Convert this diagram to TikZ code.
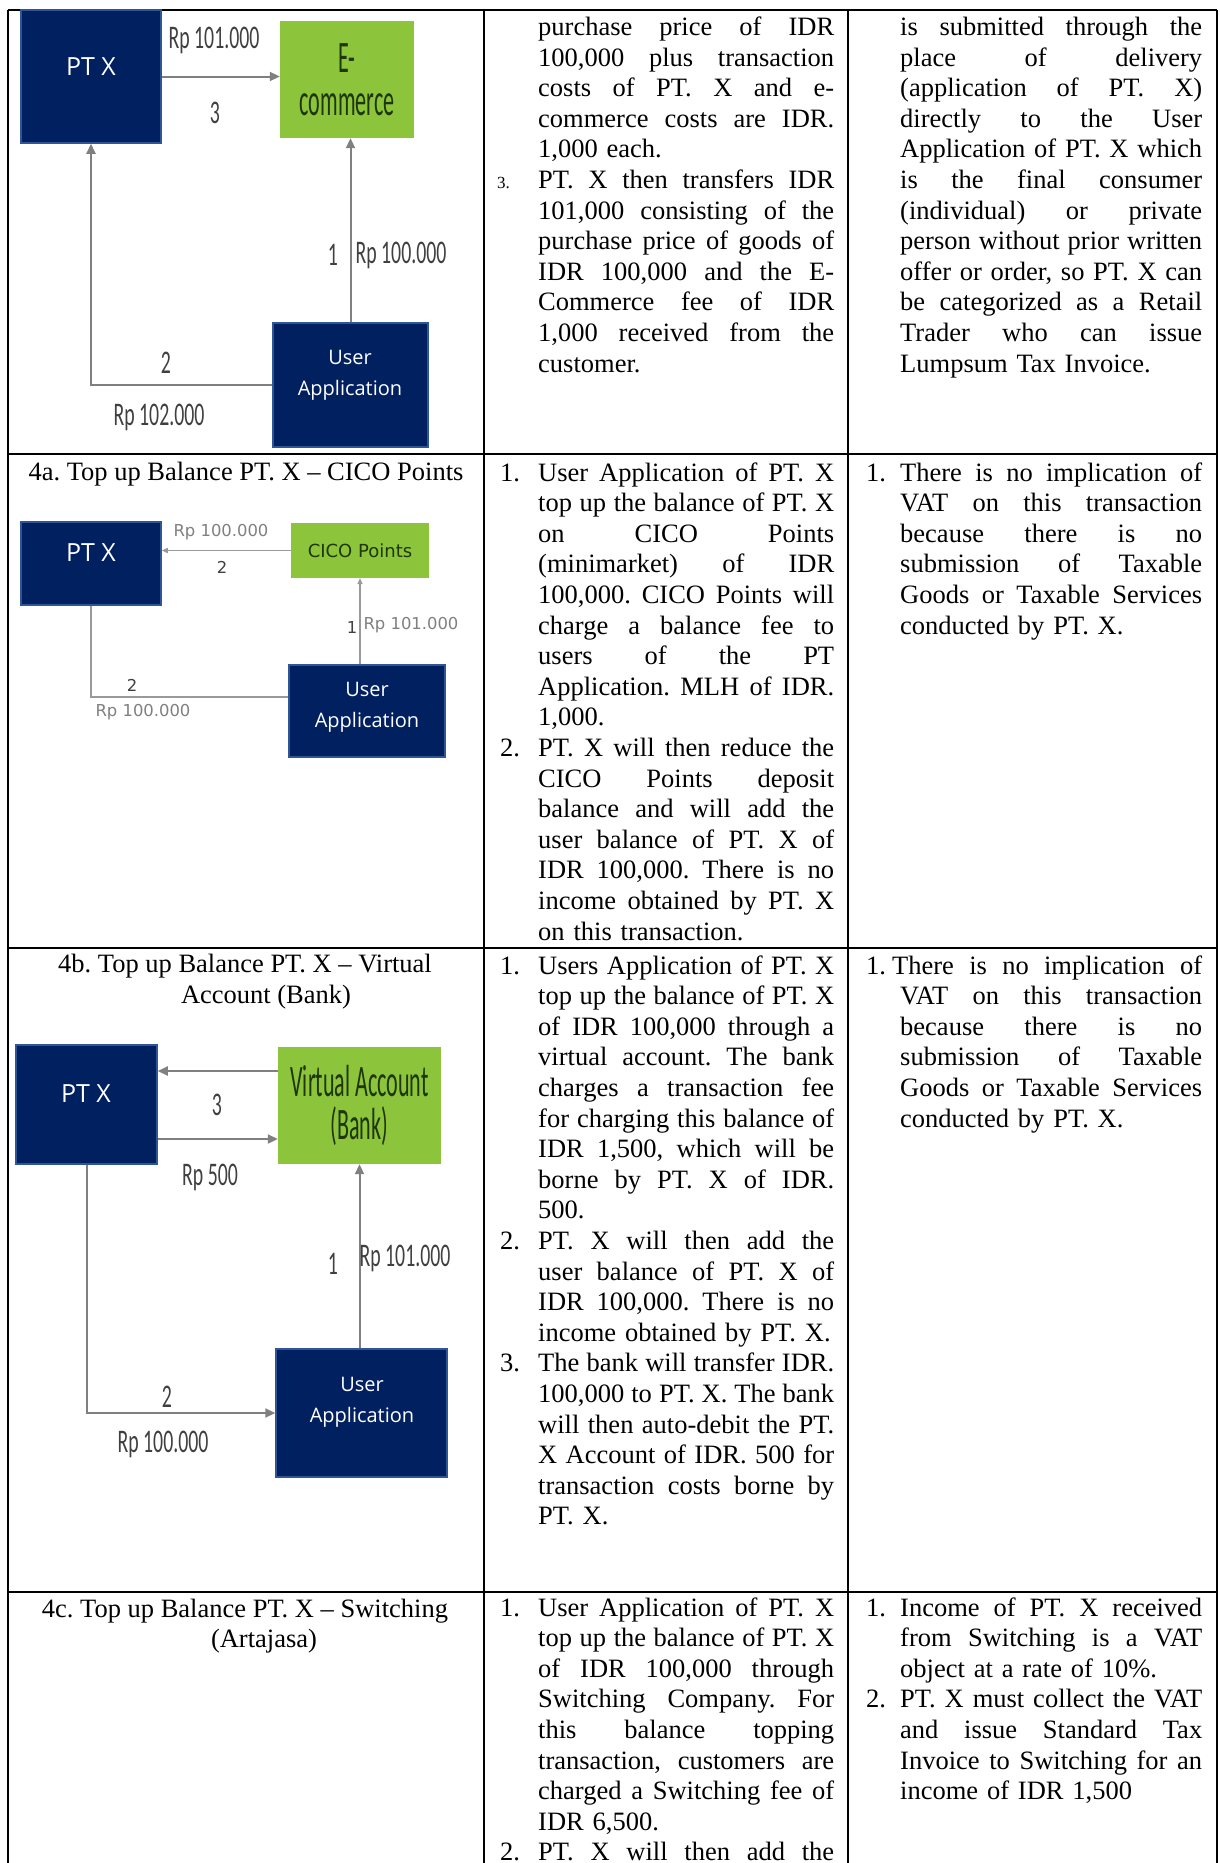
\documentclass[tikz,border=0pt]{standalone}
\usepackage{fontspec}
\setmainfont{Liberation Serif}
\newfontfamily\narrowfont[FakeStretch=0.6]{Carlito}
\newfontfamily\tallfont[FakeStretch=0.49]{Carlito}
\newfontfamily\boxfont{Open Sans}
\newfontfamily\cicofont{DejaVu Sans}
\usetikzlibrary{arrows.meta,calc}
\definecolor{navy}{HTML}{002060}
\definecolor{navyedge}{HTML}{2F5597}
\definecolor{lime}{HTML}{8CC43C}
\definecolor{limetext}{HTML}{1E3608}
\definecolor{flowgray}{HTML}{808080}
\definecolor{labelgray}{HTML}{404040}
\newcommand{\tabsize}{\fontsize{26.5}{30.6}\selectfont\frenchspacing}
\newcommand{\jlgap}{\hskip 0.25em plus 1fil\relax}
\ExplSyntaxOn
\seq_new:N \l_jl_seq
\cs_new_protected:Npn \jlwords #1
  {
    \seq_set_split:Nnn \l_jl_seq { ~ } {#1}
    \seq_use:Nn \l_jl_seq { \jlgap }
  }
\ExplSyntaxOff
\newcommand{\jm}[1]{\noindent\hbox to 296pt{\jlwords{#1}}\par}
\newcommand{\jr}[1]{\noindent\hbox to 302pt{\jlwords{#1}}\par}
\newcommand{\el}[1]{\noindent #1\par}
\newcommand{\mn}[1]{\llap{\makebox[38pt][l]{#1}}}
\newcommand{\rn}[1]{\llap{\makebox[34pt][l]{#1}}}
\newcommand{\sn}[1]{\llap{\makebox[41pt][l]{\fontsize{17}{17}\selectfont #1}}}
\begin{document}
\begin{tikzpicture}[x=1pt,y=-1pt]
\tikzset{rule/.style={line width=1.8pt}}
\tikzset{cell/.style={anchor=base west, inner sep=0pt, font=\tabsize}}
\tikzset{title/.style={anchor=base, inner sep=0pt, font=\tabsize}}
\tikzset{navybox/.style={draw=navyedge, fill=navy, line width=1.5pt, inner sep=0pt}}
\tikzset{limebox/.style={fill=lime, inner sep=0pt, text=limetext, align=center, font=\tallfont\fontsize{45}{43}\selectfont}}
\tikzset{ptxtext/.style={text=white, inner sep=0pt, font=\boxfont\fontsize{25}{25}\selectfont}}
\tikzset{usertext/.style={text=white, inner sep=0pt, align=center, font=\boxfont\fontsize{20}{31}\selectfont}}
\tikzset{edge/.style={draw=flowgray, line width=2pt, -{Triangle[length=10pt,width=9pt]}}}
\tikzset{thinedge/.style={draw=flowgray!80, line width=1.4pt, -{Triangle[length=6pt,width=5pt]}}}
\tikzset{thinlink/.style={draw=flowgray!80, line width=1.4pt}}
\tikzset{flowlab/.style={text=labelgray, inner sep=0pt, font=\narrowfont\fontsize{33}{33}\selectfont}}
\tikzset{cicolab/.style={text=flowgray, inner sep=0pt, font=\cicofont\fontsize{16.4}{16.4}\selectfont}}
\fill[white] (0,0) rectangle (1219,1863);
\useasboundingbox (0,0) rectangle (1219,1863);
\draw[rule] (8,10) -- (1217,10);
\draw[rule] (8,454) -- (1217,454);
\draw[rule] (8,948) -- (1217,948);
\draw[rule] (8,1592) -- (1217,1592);
\draw[rule] (8,10) -- (8,1863);
\draw[rule] (484,10) -- (484,1863);
\draw[rule] (848,10) -- (848,1863);
\draw[rule] (1217,10) -- (1217,1863);
\node[navybox, minimum width=140pt, minimum height=133pt] (ptxa) at (91,76.5) {};
\node[ptxtext] (ptxa-t) at (91,67) {PT X};
\node[limebox, minimum width=134pt, minimum height=117pt] (ecoma) at (347,79.5) {E-\\commerce};
\node[navybox, minimum width=155pt, minimum height=124pt] (usera) at (350.5,385) {};
\node[usertext] (usera-t) at (350,375) {User\\Application};
\draw[edge] (usera.north) -- (usera.north |- ecoma.south);
\draw[edge] (usera.west) -| (ptxa.south);
\draw[edge] (ptxa.east) -- (ptxa.east -| ecoma.west);
\node[flowlab] (la3) at (215,113) {3};
\node[flowlab] (lb3) at (214,40) {Rp 101.000};
\node[flowlab] (la1) at (333,255) {1};
\node[flowlab] (lb1) at (401,255) {Rp 100.000};
\node[flowlab] (la2) at (166,363) {2};
\node[flowlab] (lb2) at (159,417) {Rp 102.000};
\node[cell, text width=296pt] (mid1) at (538,35.5) {%
\jm{purchase price of IDR}
\jm{100,000 plus transaction}
\jm{costs of PT. X and e-}
\jm{commerce costs are IDR.}
\el{1,000 each.}
\jm{\sn{3.}PT. X then transfers IDR}
\jm{101,000 consisting of the}
\jm{purchase price of goods of}
\jm{IDR 100,000 and the E-}
\jm{Commerce fee of IDR}
\jm{1,000 received from the}
\el{customer.}};
\node[cell, text width=302pt] (rgt1) at (900,35.5) {%
\jr{is submitted through the}
\jr{place of delivery}
\jr{(application of PT. X)}
\jr{directly to the User}
\jr{Application of PT. X which}
\jr{is the final consumer}
\jr{(individual) or private}
\jr{person without prior written}
\jr{offer or order, so PT. X can}
\jr{be categorized as a Retail}
\jr{Trader who can issue}
\el{Lumpsum Tax Invoice.}};
\node[title] (t4a) at (246,480) {4a. Top up Balance PT. X – CICO Points};
\node[navybox, minimum width=140pt, minimum height=83pt] (ptxb) at (91,563.5) {};
\node[ptxtext] (ptxb-t) at (91,553) {PT X};
\node[limebox, font=\cicofont\fontsize{18}{18}\selectfont, minimum width=138pt, minimum height=55pt] (cicob) at (360,550.5) {CICO Points};
\node[navybox, minimum width=156pt, minimum height=92pt] (userb) at (367,711) {};
\node[usertext] (userb-t) at (367,707.5) {User\\Application};
\draw[thinedge] (cicob.west) -- (cicob.west -| ptxb.east);
\draw[thinedge] (userb.north -| cicob.south) -- (cicob.south);
\draw[thinlink] ($(userb.west)+(0,-14)$) -| (ptxb.south);
\node[cicolab] (lc2) at (221,532) {Rp 100.000};
\node[cicolab, text=labelgray] (ld2) at (222,567) {2};
\node[cicolab, text=labelgray] (lc1) at (352,628) {1};
\node[cicolab] (ld1) at (411,625) {Rp 101.000};
\node[cicolab, text=labelgray] (le2) at (132,685) {2};
\node[cicolab] (lf2) at (143,712) {Rp 100.000};
\node[cell, text width=296pt] (mid2) at (538,481) {%
\jm{\mn{1.}User Application of PT. X}
\jm{top up the balance of PT. X}
\jm{on CICO Points}
\jm{(minimarket) of IDR}
\jm{100,000. CICO Points will}
\jm{charge a balance fee to}
\jm{users of the PT}
\jm{Application. MLH of IDR.}
\el{1,000.}
\jm{\mn{2.}PT. X will then reduce the}
\jm{CICO Points deposit}
\jm{balance and will add the}
\jm{user balance of PT. X of}
\jm{IDR 100,000. There is no}
\jm{income obtained by PT. X}
\el{on this transaction.}};
\node[cell, text width=302pt] (rgt2) at (900,481) {%
\jr{\rn{1.}There is no implication of}
\jr{VAT on this transaction}
\jr{because there is no}
\jr{submission of Taxable}
\jr{Goods or Taxable Services}
\el{conducted by PT. X.}};
\node[title] (t4b) at (245,972) {4b. Top up Balance PT. X – Virtual};
\node[title] (t4bb) at (266,1003) {Account (Bank)};
\node[navybox, minimum width=141pt, minimum height=119pt] (ptxc) at (86.5,1104.5) {};
\node[ptxtext] (ptxc-t) at (86,1094) {PT X};
\node[limebox, minimum width=163pt, minimum height=117pt] (vac) at (359.5,1105.5) {Virtual Account\\(Bank)};
\node[navybox, minimum width=171pt, minimum height=128pt] (userc) at (361.5,1413) {};
\node[usertext] (userc-t) at (362,1402) {User\\Application};
\coordinate (vatop) at ($(vac.west)+(0,-34.5)$);
\coordinate (ptxlow) at ($(ptxc.east)+(0,34.5)$);
\draw[edge] (vatop) -- (vatop -| ptxc.east);
\draw[edge] (ptxlow) -- (ptxlow -| vac.west);
\draw[edge] (userc.north -| vac.south) -- (vac.south);
\draw[edge] (ptxc.south) |- (userc.west);
\node[flowlab] (lg3) at (217,1105) {3};
\node[flowlab] (lh3) at (210,1177) {Rp 500};
\node[flowlab] (lg1) at (333,1264) {1};
\node[flowlab] (lh1) at (405,1258) {Rp 101.000};
\node[flowlab] (lg2) at (167,1397) {2};
\node[flowlab] (lh2) at (163,1444) {Rp 100.000};
\node[cell, text width=296pt] (mid3) at (538,974) {%
\jm{\mn{1.}Users Application of PT. X}
\jm{top up the balance of PT. X}
\jm{of IDR 100,000 through a}
\jm{virtual account. The bank}
\jm{charges a transaction fee}
\jm{for charging this balance of}
\jm{IDR 1,500, which will be}
\jm{borne by PT. X of IDR.}
\el{500.}
\jm{\mn{2.}PT. X will then add the}
\jm{user balance of PT. X of}
\jm{IDR 100,000. There is no}
\el{income obtained by PT. X.}
\jm{\mn{3.}The bank will transfer IDR.}
\jm{100,000 to PT. X. The bank}
\jm{will then auto-debit the PT.}
\jm{X Account of IDR. 500 for}
\jm{transaction costs borne by}
\el{PT. X.}};
\node[cell, text width=302pt] (rgt3) at (900,974) {%
\jr{\rn{1.}\hspace*{-8pt}There is no implication of}
\jr{VAT on this transaction}
\jr{because there is no}
\jr{submission of Taxable}
\jr{Goods or Taxable Services}
\el{conducted by PT. X.}};
\node[title] (t4c) at (245,1617) {4c. Top up Balance PT. X – Switching};
\node[title] (t4cc) at (264,1647) {(Artajasa)};
\node[cell, text width=296pt] (mid4) at (538,1616) {%
\jm{\mn{1.}User Application of PT. X}
\jm{top up the balance of PT. X}
\jm{of IDR 100,000 through}
\jm{Switching Company. For}
\jm{this balance topping}
\jm{transaction, customers are}
\jm{charged a Switching fee of}
\el{IDR 6,500.}
\jm{\mn{2.}PT. X will then add the}};
\node[cell, text width=302pt] (rgt4) at (900,1616) {%
\jr{\rn{1.}Income of PT. X received}
\jr{from Switching is a VAT}
\el{object at a rate of 10\%.}
\jr{\rn{2.}PT. X must collect the VAT}
\jr{and issue Standard Tax}
\jr{Invoice to Switching for an}
\el{income of IDR 1,500}};
\end{tikzpicture}
\end{document}
